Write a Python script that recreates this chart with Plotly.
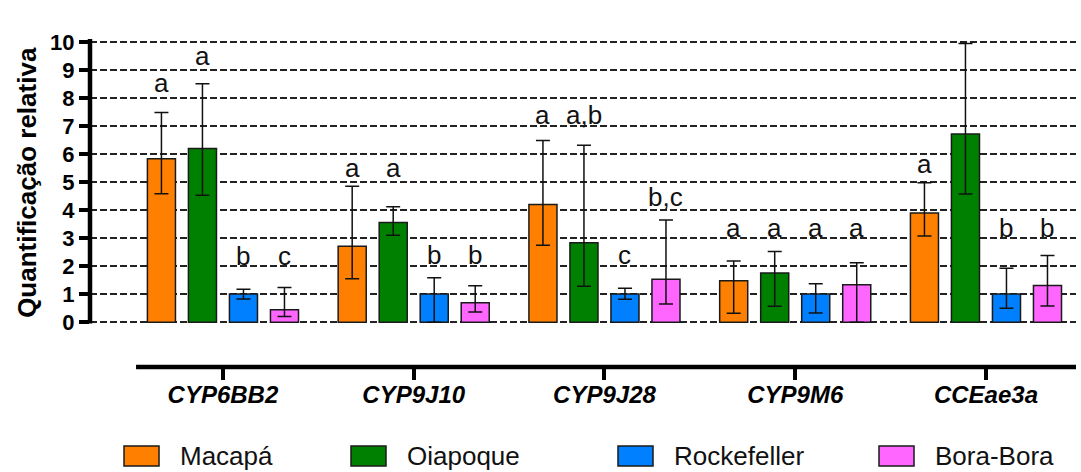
import plotly.graph_objects as go

# Genes (categories) and populations (series)
genes = ["CYP6BB2", "CYP9J10", "CYP9J28", "CYP9M6", "CCEae3a"]
populations = ["Macapá", "Oiapoque", "Rockefeller", "Bora-Bora"]
colors = ["#FF8000", "#008000", "#0080FF", "#FF66FF"]

# Relative quantification (mean) per population
macapa_mean = [5.83, 2.71, 4.20, 1.48, 3.89]
oiapoque_mean = [6.19, 3.55, 2.83, 1.75, 6.71]
rockefeller_mean = [1.00, 1.00, 1.00, 1.00, 1.00]
bora_mean = [0.44, 0.69, 1.53, 1.33, 1.31]

# Upper and lower ends of the error bars
macapa_hi = [7.48, 4.85, 6.48, 2.18, 4.97]
oiapoque_hi = [8.50, 4.12, 6.31, 2.52, 9.94]
rockefeller_hi = [1.17, 1.58, 1.21, 1.37, 1.92]
bora_hi = [1.24, 1.30, 3.64, 2.12, 2.38]

macapa_lo = [4.58, 1.55, 2.74, 0.32, 3.07]
oiapoque_lo = [4.53, 3.10, 1.28, 0.57, 4.57]
rockefeller_lo = [0.83, 0.00, 0.82, 0.33, 0.50]
bora_lo = [0.20, 0.36, 0.65, 0.00, 0.58]

# Significance letters and the height at which each is written
macapa_letters = ["a", "a", "a", "a", "a"]
oiapoque_letters = ["a", "a", "a,b", "a", "a"]
rockefeller_letters = ["b", "b", "c", "a", "b"]
bora_letters = ["c", "b", "b,c", "a", "b"]

macapa_letter_y = [8.52, 5.49, 7.38, 3.37, 5.63]
oiapoque_letter_y = [9.48, 5.49, 7.38, 3.37, 10.54]
rockefeller_letter_y = [2.37, 2.40, 2.40, 3.37, 3.37]
bora_letter_y = [2.37, 2.40, 4.48, 3.37, 3.37]

y_ticks = list(range(0, 11))

means = [macapa_mean, oiapoque_mean, rockefeller_mean, bora_mean]
highs = [macapa_hi, oiapoque_hi, rockefeller_hi, bora_hi]
lows = [macapa_lo, oiapoque_lo, rockefeller_lo, bora_lo]
letters = [macapa_letters, oiapoque_letters, rockefeller_letters, bora_letters]
letter_y = [macapa_letter_y, oiapoque_letter_y, rockefeller_letter_y, bora_letter_y]

FONT = "Arial, Liberation Sans, sans-serif"
BARGAP = 0.14
BARGROUPGAP = 0.316
n_series = len(populations)
slot = (1 - BARGAP) / n_series

fig = go.Figure()
for k, name in enumerate(populations):
    plus = [h - m for h, m in zip(highs[k], means[k])]
    minus = [m - l for m, l in zip(means[k], lows[k])]
    fig.add_trace(go.Bar(
        name=name, x=genes, y=means[k],
        marker=dict(color=colors[k], line=dict(color="#1a1a1a", width=1.5)),
        error_y=dict(type="data", symmetric=False, array=plus, arrayminus=minus,
                     color="#111111", thickness=1.5, width=7),
        showlegend=False,
    ))

# Letters above each bar
annotations = []
for k in range(n_series):
    offset = (k - (n_series - 1) / 2) * slot
    for i in range(len(genes)):
        annotations.append(dict(
            x=i + offset, y=letter_y[k][i], xref="x", yref="y",
            text=letters[k][i], showarrow=False,
            font=dict(family=FONT, size=26, color="#111111"),
            xanchor="center", yanchor="middle",
        ))

# Y-axis title
annotations.append(dict(
    x=-0.064, y=5.0, xref="paper", yref="y",
    text="<b>Quantificação relativa</b>", textangle=-90, showarrow=False,
    font=dict(family=FONT, size=26, color="#000000"),
    xanchor="center", yanchor="middle",
))

shapes = []
# Vertical axis line, from 0 to the top of the scale
shapes.append(dict(type="line", xref="paper", yref="y", x0=0, x1=0, y0=-0.05, y1=10.12,
                   line=dict(color="#000000", width=4.5)))
# Offset category axis line
shapes.append(dict(type="line", xref="paper", yref="paper", x0=0.0467, x1=1, y0=0, y1=0,
                   line=dict(color="#000000", width=4.5)))

# Legend built from the population names and colours
legend_x = [0.0345, 0.2647, 0.5355, 0.8002]
for k, name in enumerate(populations):
    x0 = legend_x[k]
    shapes.append(dict(type="rect", xref="paper", yref="paper",
                       x0=x0, x1=x0 + 0.0355, y0=-0.241, y1=-0.302,
                       fillcolor=colors[k], line=dict(color="#1a1a1a", width=1.5)))
    annotations.append(dict(
        x=x0 + 0.055, y=-0.272, xref="paper", yref="paper",
        text=name, showarrow=False, xanchor="left", yanchor="middle",
        font=dict(family=FONT, size=26, color="#111111"),
    ))

fig.update_layout(
    width=1081, height=472,
    margin=dict(l=90, r=5, t=39, b=105),
    paper_bgcolor="white", plot_bgcolor="white",
    barmode="group", bargap=BARGAP, bargroupgap=BARGROUPGAP,
    font=dict(family=FONT, color="#000000"),
    annotations=annotations, shapes=shapes,
    showlegend=False,
)
fig.update_xaxes(
    range=[-0.697, 4.472], showline=False, showgrid=False, zeroline=False,
    ticks="outside", ticklen=12, tickwidth=4, tickcolor="#000000",
    ticklabelstandoff=-6,
    tickfont=dict(family=FONT, size=24, weight="bold", style="italic", color="#000000"),
)
fig.update_yaxes(
    range=[-1.6, 10.1], tickvals=y_ticks, ticktext=[str(v) for v in y_ticks],
    showline=False, zeroline=False,
    showgrid=True, gridcolor="#222222", gridwidth=1.5, griddash="7px,3px",
    ticks="outside", ticklen=10, tickwidth=3.5, tickcolor="#000000",
    tickfont=dict(family=FONT, size=22, weight="bold", color="#000000"),
)

fig.write_html("out.html")
